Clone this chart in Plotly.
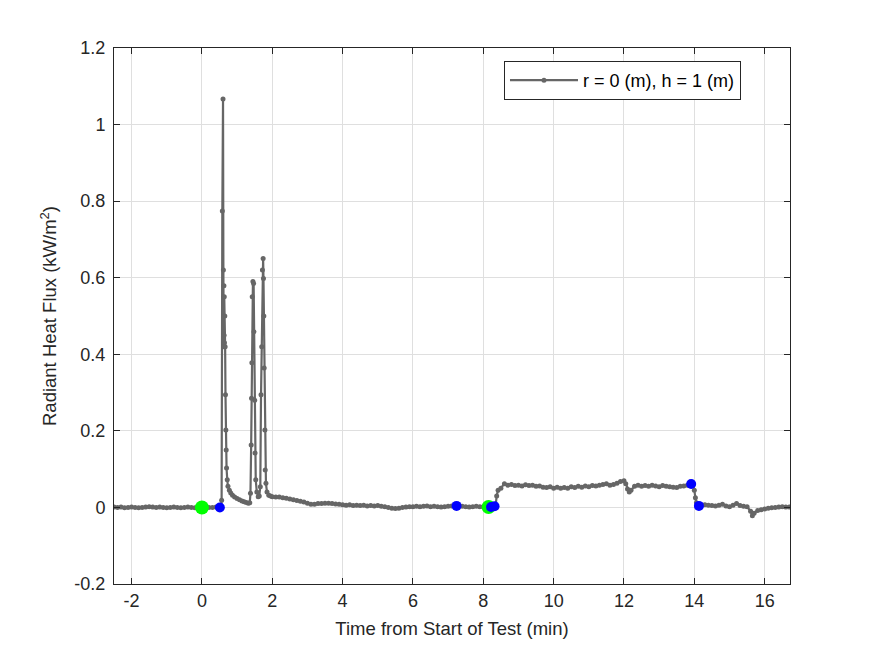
import plotly.graph_objects as go

# ---- data ----
time_min = [
    -2.5, -2.4, -2.3, -2.2, -2.1, -2.0, -1.9, -1.8, -1.7, -1.6, -1.5, -1.4, -1.3, -1.2, -1.1,
    -1.0, -0.9, -0.8, -0.7, -0.6, -0.5, -0.4, -0.3, -0.2, -0.1, 0.0, 0.1, 0.2, 0.3, 0.4, 0.5,
    0.55, 0.56, 0.58, 0.60, 0.61, 0.62, 0.625, 0.63, 0.635, 0.64, 0.65, 0.66, 0.67, 0.68, 0.69,
    0.70, 0.72, 0.74, 0.78, 0.82, 0.87, 0.93, 1.00, 1.07, 1.14, 1.20, 1.26, 1.32, 1.36,
    1.38, 1.40, 1.41, 1.42, 1.43, 1.45, 1.47, 1.48, 1.50, 1.51, 1.53, 1.56, 1.60, 1.63,
    1.66, 1.68, 1.70, 1.72, 1.74, 1.75, 1.76, 1.77, 1.79, 1.80, 1.82, 1.85, 1.90, 1.95,
    2.0, 2.1, 2.2, 2.3, 2.4, 2.5, 2.6, 2.7, 2.8, 2.9, 3.0, 3.1, 3.2, 3.3, 3.4, 3.5, 3.6,
    3.7, 3.8, 3.9, 4.0, 4.1, 4.2, 4.3, 4.4, 4.5, 4.6, 4.7, 4.8, 4.9, 5.0, 5.1, 5.2, 5.3,
    5.4, 5.5, 5.6, 5.7, 5.8, 5.9, 6.0, 6.1, 6.2, 6.3, 6.4, 6.5, 6.6, 6.7, 6.8, 6.9, 7.0,
    7.1, 7.2, 7.3, 7.4, 7.5, 7.6, 7.7, 7.8, 7.9, 8.0, 8.1, 8.2, 8.3, 8.35, 8.38, 8.42,
    8.5, 8.6, 8.7, 8.8, 8.9, 9.0, 9.1, 9.2, 9.3, 9.4, 9.5, 9.6, 9.7, 9.8, 9.9, 10.0,
    10.1, 10.2, 10.3, 10.4, 10.5, 10.6, 10.7, 10.8, 10.9, 11.0, 11.1, 11.2, 11.3, 11.4,
    11.5, 11.6, 11.7, 11.8, 11.9, 12.0, 12.05, 12.1, 12.15, 12.2, 12.3, 12.4, 12.5, 12.6,
    12.7, 12.8, 12.9, 13.0, 13.1, 13.2, 13.3, 13.4, 13.5, 13.6, 13.7, 13.8, 13.9, 13.95,
    14.0, 14.03, 14.06, 14.1, 14.15, 14.2, 14.3, 14.4, 14.5, 14.6, 14.7, 14.8, 14.9, 15.0,
    15.1, 15.2, 15.3, 15.4, 15.5, 15.6, 15.65, 15.7, 15.8, 15.9, 16.0, 16.1, 16.2, 16.3,
    16.4, 16.5, 16.6, 16.7,
]
flux_kw_m2 = [
    0.001, 0.000, 0.001, -0.001, 0.000, 0.001, 0.000, -0.001, 0.000, 0.001, 0.002, 0.001, 0.000, 0.001, 0.000,
    -0.001, 0.000, 0.001, 0.000, -0.001, 0.000, 0.001, 0.000, -0.001, 0.000, 0.000, 0.001, 0.000, 0.000, 0.001, 0.000,
    0.002, 0.019, 0.774, 1.067, 0.620, 0.420, 0.579, 0.450, 0.550, 0.430, 0.500, 0.420, 0.294, 0.202, 0.150,
    0.103, 0.072, 0.055, 0.045, 0.038, 0.032, 0.027, 0.023, 0.020, 0.017, 0.015, 0.013, 0.011, 0.012,
    0.037, 0.163, 0.285, 0.378, 0.550, 0.590, 0.585, 0.459, 0.280, 0.142, 0.072, 0.040, 0.028, 0.030,
    0.054, 0.294, 0.420, 0.620, 0.650, 0.598, 0.500, 0.364, 0.202, 0.098, 0.063, 0.040, 0.032, 0.030,
    0.028, 0.027, 0.027, 0.025, 0.024, 0.022, 0.020, 0.018, 0.016, 0.014, 0.011, 0.008, 0.008, 0.010, 0.010, 0.011, 0.011,
    0.010, 0.009, 0.008, 0.007, 0.006, 0.007, 0.005, 0.006, 0.005, 0.006, 0.004, 0.005, 0.004, 0.005, 0.003, 0.002, 0.000,
    -0.002, -0.003, -0.002, 0.000, 0.001, 0.002, 0.002, 0.003, 0.002, 0.003, 0.004, 0.002, 0.003, 0.002, 0.001, 0.002, 0.003,
    0.004, 0.004, 0.005, 0.003, 0.002, 0.001, 0.002, 0.003, 0.002, 0.002, 0.001, 0.001, 0.002, 0.004, 0.030, 0.045,
    0.050, 0.062, 0.058, 0.060, 0.057, 0.058, 0.056, 0.059, 0.057, 0.058, 0.055, 0.056, 0.053, 0.052, 0.054, 0.050,
    0.053, 0.050, 0.052, 0.050, 0.054, 0.052, 0.055, 0.053, 0.056, 0.054, 0.057, 0.056, 0.058, 0.060,
    0.062, 0.058, 0.060, 0.063, 0.068, 0.070, 0.062, 0.048, 0.040, 0.045, 0.055, 0.058, 0.055, 0.057,
    0.055, 0.058, 0.056, 0.054, 0.057, 0.055, 0.054, 0.053, 0.052, 0.055, 0.056, 0.058, 0.061, 0.060,
    0.045, 0.025, 0.012, 0.006, 0.004, 0.005, 0.007, 0.006, 0.005, 0.004, 0.006, 0.008, 0.004, 0.002,
    0.006, 0.010, 0.005, 0.003, 0.002, -0.010, -0.022, -0.015, -0.008, -0.006, -0.004, -0.002, -0.001, 0.000,
    0.001, 0.002, 0.001, 0.001,
]

# event markers
green_t = [0.0, 8.15]
green_v = [0.000, 0.001]
blue_t = [0.51, 7.24, 8.22, 8.32, 13.91, 14.13]
blue_v = [0.000, 0.004, 0.001, 0.003, 0.061, 0.004]

series_name = "r = 0 (m), h = 1 (m)"
x_tickvals = [-2, 0, 2, 4, 6, 8, 10, 12, 14, 16]
x_ticktext = ["-2", "0", "2", "4", "6", "8", "10", "12", "14", "16"]
y_tickvals = [-0.2, 0, 0.2, 0.4, 0.6, 0.8, 1.0, 1.2]
y_ticktext = ["-0.2", "0", "0.2", "0.4", "0.6", "0.8", "1", "1.2"]

FONT = "Liberation Sans, Arial, Helvetica, sans-serif"
TXT = "#262626"

fig = go.Figure()
fig.add_trace(go.Scatter(
    x=time_min, y=flux_kw_m2, mode="lines+markers", name=series_name,
    line=dict(color="#666666", width=2.2),
    marker=dict(color="#666666", size=5),
))
fig.add_trace(go.Scatter(
    x=green_t, y=green_v, mode="markers", showlegend=False,
    marker=dict(color="#00ff00", size=14, line=dict(width=0)),
))
fig.add_trace(go.Scatter(
    x=blue_t, y=blue_v, mode="markers", showlegend=False,
    marker=dict(color="#0000ff", size=10, line=dict(width=0)),
))

axis_common = dict(
    showline=True, linecolor="#262626", linewidth=1, mirror="ticks",
    ticks="inside", ticklen=6, tickcolor="#262626",
    showgrid=True, gridcolor="#dfdfdf", gridwidth=1, zeroline=False,
    tickfont=dict(family=FONT, size=18, color=TXT),
)

fig.update_layout(
    width=875, height=656,
    margin=dict(l=114, r=85, t=48, b=72, autoexpand=False),
    paper_bgcolor="white", plot_bgcolor="white",
    font=dict(family=FONT, color=TXT),
    xaxis=dict(
        range=[-2.5, 16.72], tickvals=x_tickvals, ticktext=x_ticktext,
        title=dict(text="Time from Start of Test (min)", font=dict(family=FONT, size=18.5, color=TXT), standoff=12),
        **axis_common,
    ),
    yaxis=dict(
        range=[-0.2, 1.2], tickvals=y_tickvals, ticktext=y_ticktext,
        title=dict(text="Radiant Heat Flux (kW/m<sup>2</sup>)", font=dict(family=FONT, size=18.5, color=TXT), standoff=12),
        ticklabelstandoff=4,
        **axis_common,
    ),
    legend=dict(
        x=0.9275, y=0.9757, xanchor="right", yanchor="top",
        bgcolor="white", bordercolor="#262626", borderwidth=1,
        font=dict(family=FONT, size=18, color="black"),
        itemwidth=68,
    ),
    showlegend=True,
)

fig.write_html("out.html")
